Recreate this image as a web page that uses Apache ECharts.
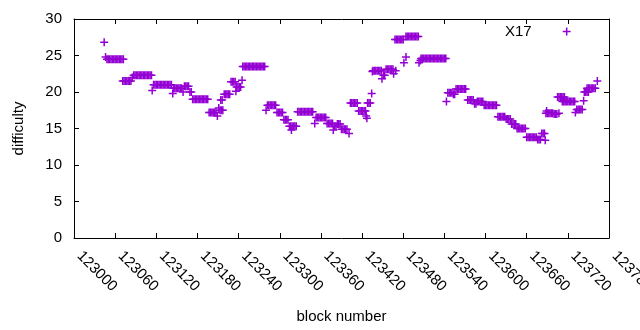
<!DOCTYPE html>
<html>
<head>
<meta charset="utf-8">
<script src="https://cdn.jsdelivr.net/npm/echarts@6/dist/echarts.min.js"></script>
<style>
html,body{margin:0;padding:0;background:#fff;}
#chart{width:640px;height:330px;}
</style>
</head>
<body>
<div id="chart"></div>
<script>
// ---- data ----
const seriesName = 'X17';
const xTitle = 'block number';
const yTitle = 'difficulty';
const xMin = 123000, xMax = 123780, xStep = 60;
const yMin = 0, yMax = 30, yStep = 5;

// [block number, difficulty]
const x17Points = [
[123044,26.8],[123046,24.8],
[123048,24.5],[123050,24.5],[123052,24.5],[123054,24.5],[123056,24.5],[123058,24.5],[123060,24.5],[123062,24.5],[123064,24.5],[123066,24.5],[123068,24.5],[123070,24.5],[123072,24.5],
[123071,21.5],[123073,21.5],[123075,21.5],[123077,21.5],[123079,21.5],[123081,21.5],[123083,21.5],
[123085,22.0],
[123087,22.3],[123089,22.3],[123091,22.3],[123093,22.3],[123095,22.3],[123097,22.3],[123099,22.3],[123101,22.3],[123103,22.3],[123105,22.3],[123107,22.3],[123109,22.3],[123111,22.3],[123113,22.3],
[123114,20.2],
[123116,21.0],[123118,21.0],[123120,21.0],[123122,21.0],[123124,21.0],[123126,21.0],[123128,21.0],[123130,21.0],[123132,21.0],[123134,21.0],[123136,21.0],[123138,21.0],[123140,21.0],[123142,21.0],
[123144,19.8],
[123145,20.5],[123147,20.5],[123149,20.5],[123151,20.5],[123153,20.5],[123155,20.5],[123157,20.5],
[123159,20.0],
[123161,20.8],[123163,20.8],[123165,20.8],[123167,20.8],
[123169,20.0],[123171,20.0],
[123173,19.0],[123175,19.0],[123177,19.0],[123179,19.0],[123181,19.0],[123183,19.0],[123185,19.0],[123187,19.0],[123189,19.0],[123191,19.0],[123193,19.0],[123195,19.0],
[123197,17.2],[123199,17.2],[123201,17.2],[123203,17.2],[123205,17.2],[123207,17.2],
[123209,16.7],[123211,17.8],
[123213,17.5],[123215,17.5],[123217,17.5],
[123214,18.9],[123216,18.9],
[123219,19.7],[123221,19.7],[123223,19.7],[123225,19.7],[123227,19.7],
[123229,21.4],[123231,21.4],[123233,21.4],[123235,21.4],
[123236,20.1],
[123237,20.7],[123239,20.7],[123241,20.7],[123243,20.7],
[123245,21.6],
[123246,23.5],[123248,23.5],[123250,23.5],[123252,23.5],[123254,23.5],[123256,23.5],[123258,23.5],[123260,23.5],[123262,23.5],[123264,23.5],[123266,23.5],[123268,23.5],[123270,23.5],[123272,23.5],[123274,23.5],[123276,23.5],[123278,23.5],
[123280,17.5],
[123282,18.2],[123284,18.2],[123286,18.2],[123288,18.2],[123290,18.2],[123292,18.2],[123294,18.2],
[123296,17.2],[123298,17.2],[123300,17.2],[123302,17.2],[123304,17.2],
[123306,16.2],[123308,16.2],[123310,16.2],[123312,16.2],
[123314,15.3],[123316,15.3],[123318,15.3],[123320,15.3],[123322,15.3],[123324,15.3],
[123317,14.8],
[123326,17.3],[123328,17.3],[123330,17.3],[123332,17.3],[123334,17.3],[123336,17.3],[123338,17.3],[123340,17.3],[123342,17.3],[123344,17.3],[123346,17.3],[123348,17.3],
[123351,15.7],
[123353,16.5],[123355,16.5],[123357,16.5],[123359,16.5],[123361,16.5],[123363,16.5],[123365,16.5],[123367,16.5],
[123369,15.7],[123371,15.7],[123373,15.7],[123375,15.7],[123377,15.7],
[123378,14.8],
[123380,15.3],[123382,15.3],
[123384,15.6],[123386,15.6],[123388,15.6],
[123390,14.9],[123392,14.9],[123394,14.9],[123396,14.9],[123398,14.9],
[123401,14.3],
[123403,18.5],[123405,18.5],[123407,18.5],[123409,18.5],[123411,18.5],[123413,18.5],
[123415,17.4],[123417,17.4],[123419,17.4],[123421,17.4],[123423,17.4],[123425,17.4],
[123426,16.7],[123427,16.4],
[123428,18.5],[123430,18.5],[123432,18.5],
[123434,19.8],
[123435,22.8],
[123436,22.9],[123438,22.9],[123440,22.9],[123442,22.9],[123444,22.9],[123446,22.9],[123448,22.9],
[123449,21.8],
[123451,22.3],[123453,22.3],
[123455,23.1],[123457,23.1],[123459,23.1],[123461,23.1],[123463,23.1],[123465,23.1],
[123466,22.5],[123469,22.9],
[123468,27.2],[123470,27.2],[123472,27.2],[123474,27.2],[123476,27.2],[123478,27.2],[123480,27.2],
[123481,24.0],[123484,24.8],
[123484,27.6],[123486,27.6],[123488,27.6],[123490,27.6],[123492,27.6],[123494,27.6],[123496,27.6],[123498,27.6],[123500,27.6],[123502,27.6],
[123503,24.0],[123505,24.3],
[123506,24.6],[123508,24.6],[123510,24.6],[123512,24.6],[123514,24.6],[123516,24.6],[123518,24.6],[123520,24.6],[123522,24.6],[123524,24.6],[123526,24.6],[123528,24.6],[123530,24.6],[123532,24.6],[123534,24.6],[123536,24.6],[123538,24.6],[123540,24.6],[123542,24.6],
[123543,18.7],
[123545,19.9],[123547,19.9],[123549,19.9],[123551,19.9],
[123553,19.7],[123555,19.7],
[123557,20.4],[123559,20.4],[123561,20.4],[123563,20.4],[123565,20.4],[123567,20.4],[123569,20.4],[123571,20.4],
[123574,18.9],[123576,18.9],[123578,18.9],[123580,18.9],[123582,18.9],
[123584,18.4],[123586,18.4],
[123588,18.7],[123590,18.7],[123592,18.7],[123594,18.7],[123596,18.7],
[123598,18.2],[123600,18.2],[123602,18.2],[123604,18.2],[123606,18.2],[123608,18.2],[123610,18.2],[123612,18.2],[123614,18.2],[123616,18.2],
[123618,16.6],[123620,16.6],[123622,16.6],[123624,16.6],[123626,16.6],[123628,16.6],
[123630,16.3],[123632,16.3],[123634,16.3],[123636,16.3],
[123638,15.6],[123640,15.6],[123642,15.6],[123644,15.6],
[123646,15.0],[123648,15.0],[123650,15.0],[123652,15.0],[123654,15.0],[123656,15.0],[123658,15.0],
[123660,13.8],[123662,13.8],[123664,13.8],[123666,13.8],[123668,13.8],[123670,13.8],[123672,13.8],[123674,13.8],
[123676,13.5],[123678,13.5],[123680,13.5],
[123682,14.3],[123684,14.3],[123686,14.3],
[123687,13.4],
[123688,17.1],[123690,17.1],[123692,17.1],[123694,17.1],[123696,17.1],[123698,17.1],
[123689,17.4],
[123700,17.0],[123702,17.0],[123704,17.0],
[123707,17.1],
[123705,19.3],[123707,19.3],[123709,19.3],[123711,19.3],[123713,19.3],[123715,19.3],
[123712,18.7],[123714,18.7],[123716,18.7],[123718,18.7],[123720,18.7],[123722,18.7],[123724,18.7],[123726,18.7],[123728,18.7],[123730,18.7],
[123731,17.2],
[123733,17.6],[123735,17.6],[123737,17.6],[123739,17.6],[123741,17.6],
[123743,18.8],
[123744,20.0],[123746,20.0],[123748,20.0],[123750,20.0],
[123748,20.5],[123750,20.5],[123752,20.5],[123754,20.5],[123756,20.5],[123758,20.5],[123760,20.5],
[123763,21.5]
];

// ---- chart ----
const COLOR = '#9400d3';
const FONT = 'Liberation Sans, Arial, sans-serif';
const FS = 15;
const plus = 'path://M6.5,0H9.5V6.5H16V9.5H9.5V16H6.5V9.5H0V6.5H6.5Z';

const chart = echarts.init(document.getElementById('chart'), null, {renderer: 'canvas'});

const axisCommon = {
  axisLine: {show: true, onZero: false, lineStyle: {color: '#000', width: 1}},
  axisTick: {show: true, inside: true, length: 5, lineStyle: {color: '#000', width: 1}},
  splitLine: {show: false}
};

chart.setOption({
  animation: false,
  textStyle: {fontFamily: FONT},
  grid: {left: 74, right: 31, top: 19, bottom: 92, containLabel: false, outerBoundsMode: 'none'},
  legend: {
    data: [seriesName],
    left: 505, top: 24, padding: 0,
    align: 'right',
    itemWidth: 60, itemHeight: 8,
    symbolKeepAspect: true,
    textStyle: {fontFamily: FONT, fontSize: FS, color: '#000'}
  },
  xAxis: [
    Object.assign({
      type: 'value', min: xMin, max: xMax, interval: xStep, position: 'bottom',
      name: xTitle, nameLocation: 'middle', nameGap: 71,
      nameTextStyle: {fontFamily: FONT, fontSize: FS, color: '#000'},
      axisLabel: {rotate: -45, margin: 21, align: 'left', verticalAlign: 'bottom',
        fontFamily: FONT, fontSize: FS, color: '#000',
        showMinLabel: true, showMaxLabel: true, hideOverlap: false,
        formatter: function (v) { return String(v); }}
    }, axisCommon),
    Object.assign({
      type: 'value', min: xMin, max: xMax, interval: xStep, position: 'top',
      axisLabel: {show: false}
    }, axisCommon)
  ],
  yAxis: [
    Object.assign({
      type: 'value', min: yMin, max: yMax, interval: yStep, position: 'left',
      name: yTitle, nameLocation: 'middle', nameGap: 48, nameRotate: 90,
      nameTextStyle: {fontFamily: FONT, fontSize: FS, color: '#000'},
      axisLabel: {margin: 12, fontFamily: FONT, fontSize: FS, color: '#000'}
    }, axisCommon),
    Object.assign({
      type: 'value', min: yMin, max: yMax, interval: yStep, position: 'right',
      axisLabel: {show: false}
    }, axisCommon)
  ],
  series: [{
    name: seriesName,
    type: 'scatter',
    xAxisIndex: 0, yAxisIndex: 0,
    symbol: plus,
    symbolSize: 8,
    symbolKeepAspect: true,
    itemStyle: {color: COLOR, opacity: 1},
    emphasis: {disabled: true},
    large: false,
    data: x17Points
  }]
});
</script>
</body>
</html>
